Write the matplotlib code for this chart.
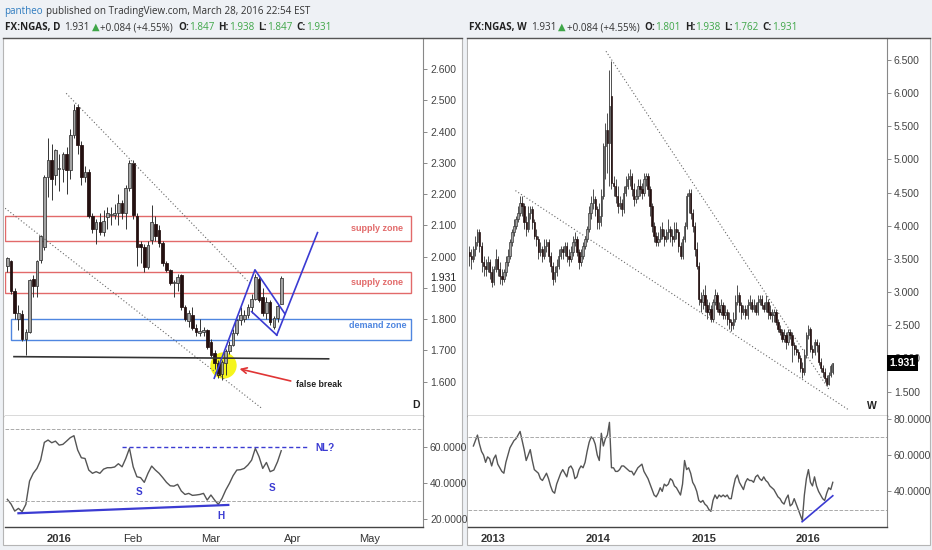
import matplotlib
matplotlib.use("Agg")
import matplotlib.pyplot as plt
import numpy as np
from matplotlib.lines import Line2D
from matplotlib.patches import Rectangle
from matplotlib.transforms import blended_transform_factory

plt.rcParams["font.family"] = ["Liberation Sans", "DejaVu Sans"]

# ---------------- daily FX:NGAS candles (Dec 2015 .. Mar 28 2016) ----------------
d_open = [1.970, 1.985, 1.890, 1.800, 1.815, 1.735, 1.760, 1.930, 1.905, 1.990,
          2.030, 2.255, 2.310, 2.260, 2.280, 2.280, 2.330, 2.278, 2.390, 2.480,
          2.358, 2.256, 2.270, 2.130, 2.090, 2.110, 2.080, 2.126, 2.134, 2.134,
          2.139, 2.171, 2.139, 2.219, 2.300, 2.130, 2.040, 2.030, 1.968, 2.054,
          2.105, 2.085, 2.043, 1.980, 1.957, 1.915, 1.917, 1.940, 1.838, 1.795,
          1.812, 1.773, 1.757, 1.758, 1.765, 1.728, 1.691, 1.659, 1.625, 1.659,
          1.697, 1.718, 1.755, 1.797, 1.800, 1.812, 1.840, 1.866, 1.930, 1.870,
          1.820, 1.855, 1.776, 1.803, 1.847]
d_high = [2.000, 1.990, 1.900, 1.845, 1.830, 1.770, 1.930, 1.940, 1.990, 2.070,
          2.260, 2.380, 2.360, 2.345, 2.330, 2.335, 2.350, 2.410, 2.490, 2.490,
          2.370, 2.290, 2.280, 2.140, 2.120, 2.140, 2.150, 2.160, 2.160, 2.170,
          2.200, 2.180, 2.230, 2.310, 2.310, 2.140, 2.050, 2.040, 2.050, 2.165,
          2.130, 2.100, 2.050, 1.985, 1.960, 1.925, 1.945, 1.945, 1.845, 1.830,
          1.840, 1.785, 1.800, 1.775, 1.770, 1.735, 1.700, 1.670, 1.670, 1.705,
          1.730, 1.770, 1.800, 1.840, 1.830, 1.850, 1.880, 1.945, 1.935, 1.900,
          1.870, 1.860, 1.810, 1.850, 1.938]
d_low = [1.950, 1.880, 1.800, 1.765, 1.730, 1.685, 1.755, 1.870, 1.870, 1.980,
         2.020, 2.190, 2.180, 2.230, 2.210, 2.240, 2.200, 2.250, 2.380, 2.330,
         2.230, 2.240, 2.125, 2.075, 2.040, 2.070, 2.065, 2.090, 2.100, 2.120,
         2.100, 2.120, 2.090, 2.210, 2.120, 1.970, 1.980, 1.950, 1.960, 2.040,
         2.050, 2.030, 1.970, 1.950, 1.910, 1.870, 1.890, 1.830, 1.795, 1.775,
         1.765, 1.745, 1.745, 1.745, 1.705, 1.680, 1.640, 1.611, 1.605, 1.620,
         1.690, 1.715, 1.750, 1.780, 1.790, 1.805, 1.820, 1.860, 1.855, 1.810,
         1.800, 1.780, 1.770, 1.790, 1.847]
d_close = [1.995, 1.890, 1.820, 1.820, 1.735, 1.760, 1.925, 1.905, 1.985, 2.065,
           2.255, 2.310, 2.250, 2.340, 2.285, 2.330, 2.278, 2.390, 2.470, 2.358,
           2.256, 2.270, 2.130, 2.090, 2.110, 2.080, 2.113, 2.139, 2.137, 2.141,
           2.171, 2.139, 2.219, 2.300, 2.134, 2.030, 2.030, 1.968, 2.037, 2.112,
           2.065, 2.043, 1.979, 1.957, 1.915, 1.919, 1.935, 1.838, 1.800, 1.820,
           1.773, 1.760, 1.760, 1.765, 1.712, 1.685, 1.659, 1.620, 1.664, 1.697,
           1.718, 1.755, 1.797, 1.812, 1.812, 1.840, 1.866, 1.936, 1.862, 1.820,
           1.855, 1.790, 1.803, 1.842, 1.931]
d_rsi = [30.9, 28.3, 24.4, 25.9, 24.1, 28.1, 41.0, 45.3, 48.0, 52.6,
         62.4, 63.7, 62.2, 63.1, 60.9, 61.3, 63.1, 65.0, 66.1, 58.2,
         53.9, 53.5, 47.1, 45.3, 46.2, 45.3, 47.6, 48.4, 48.4, 48.8,
         50.6, 48.9, 53.5, 59.1, 48.9, 43.4, 42.9, 40.3, 45.3, 49.3,
         47.1, 45.3, 42.9, 40.3, 38.4, 38.2, 39.2, 35.5, 33.6, 34.2,
         33.1, 33.3, 33.6, 34.2, 30.5, 33.3, 30.5, 28.1, 31.4, 36.0,
         39.7, 44.0, 47.1, 47.3, 48.0, 49.9, 52.6, 59.1, 54.5, 48.0,
         51.3, 46.2, 47.1, 51.7, 57.8]
d_month_labels = ["2016", "Feb", "Mar", "Apr", "May"]
d_month_bars = [14, 34, 55, 77, 98]

# ---------------- weekly FX:NGAS candles (Oct 2012 .. Mar 2016) ----------------
w_open = [3.60, 3.55, 3.50, 3.65, 3.75, 3.90, 3.70, 3.45, 3.40, 3.35,
          3.45, 3.30, 3.15, 3.35, 3.50, 3.35, 3.25, 3.20, 3.30, 3.45,
          3.55, 3.75, 3.90, 4.00, 4.10, 4.20, 4.35, 4.30, 4.05, 3.95,
          4.20, 4.25, 4.05, 3.85, 3.80, 3.60, 3.65, 3.55, 3.70, 3.75,
          3.55, 3.40, 3.20, 3.30, 3.40, 3.55, 3.65, 3.60, 3.70, 3.55,
          3.50, 3.60, 3.75, 3.80, 3.60, 3.45, 3.55, 3.70, 3.80, 3.95,
          4.20, 4.35, 4.40, 4.25, 4.05, 4.15, 4.45, 5.20, 5.45, 5.25,
          5.95, 4.65, 4.60, 4.45, 4.30, 4.35, 4.25, 4.50, 4.60, 4.70,
          4.75, 4.55, 4.40, 4.45, 4.60, 4.55, 4.50, 4.70, 4.75, 4.55,
          4.30, 4.00, 3.85, 3.75, 3.80, 3.95, 3.85, 3.80, 3.90, 3.95,
          3.85, 3.80, 3.95, 3.90, 3.70, 3.55, 3.80, 4.00, 4.45, 4.50,
          4.20, 4.00, 3.65, 3.40, 2.90, 2.85, 2.95, 2.80, 2.70, 2.75,
          2.60, 2.85, 2.95, 2.75, 2.70, 2.80, 2.65, 2.70, 2.60, 2.55,
          2.50, 2.60, 2.85, 2.95, 2.80, 2.70, 2.75, 2.65, 2.80, 2.85,
          2.75, 2.80, 2.70, 2.85, 2.90, 2.80, 2.75, 2.85, 2.70, 2.65,
          2.65, 2.70, 2.55, 2.45, 2.40, 2.30, 2.35, 2.25, 2.40, 2.35,
          2.20, 2.15, 2.10, 2.00, 1.85, 1.80, 2.05, 2.35, 2.45, 2.15,
          2.10, 2.25, 2.20, 1.95, 1.85, 1.80, 1.70, 1.62, 1.75, 1.801]
w_high = [3.70, 3.65, 3.70, 3.85, 3.95, 3.95, 3.75, 3.55, 3.50, 3.55,
          3.50, 3.40, 3.40, 3.65, 3.55, 3.45, 3.35, 3.35, 3.55, 3.65,
          3.80, 3.95, 4.10, 4.15, 4.30, 4.45, 4.45, 4.35, 4.15, 4.30,
          4.30, 4.30, 4.10, 3.95, 3.85, 3.75, 3.70, 3.80, 3.80, 3.80,
          3.60, 3.45, 3.40, 3.50, 3.65, 3.70, 3.70, 3.75, 3.75, 3.65,
          3.70, 3.85, 3.90, 3.85, 3.65, 3.65, 3.75, 3.85, 4.00, 4.30,
          4.45, 4.55, 4.45, 4.30, 4.35, 4.55, 5.25, 5.55, 5.70, 6.35,
          6.49, 4.75, 4.70, 4.60, 4.45, 4.40, 4.60, 4.75, 4.80, 4.85,
          4.80, 4.65, 4.55, 4.70, 4.70, 4.65, 4.80, 4.80, 4.80, 4.60,
          4.35, 4.05, 3.90, 3.90, 4.00, 4.05, 3.95, 3.95, 4.10, 4.00,
          3.95, 4.05, 4.05, 3.95, 3.75, 3.85, 4.05, 4.50, 4.55, 4.55,
          4.25, 4.05, 3.75, 3.45, 3.00, 3.05, 3.10, 2.90, 2.85, 2.80,
          2.90, 3.05, 3.00, 2.85, 2.90, 2.85, 2.80, 2.75, 2.70, 2.60,
          2.70, 2.95, 3.10, 3.00, 2.85, 2.80, 2.80, 2.90, 2.95, 2.90,
          2.90, 2.85, 2.95, 2.95, 2.95, 2.85, 2.95, 2.90, 2.80, 2.75,
          2.75, 2.75, 2.60, 2.50, 2.45, 2.45, 2.40, 2.45, 2.45, 2.40,
          2.25, 2.20, 2.15, 2.05, 1.95, 2.15, 2.40, 2.50, 2.48, 2.20,
          2.30, 2.30, 2.25, 2.00, 1.90, 1.85, 1.75, 1.80, 1.92, 1.938]
w_low = [3.40, 3.35, 3.45, 3.55, 3.70, 3.60, 3.30, 3.25, 3.25, 3.30,
         3.20, 3.08, 3.10, 3.30, 3.25, 3.12, 3.10, 3.15, 3.25, 3.40,
         3.50, 3.70, 3.85, 3.95, 4.05, 4.15, 4.15, 3.95, 3.85, 3.90,
         4.10, 3.95, 3.80, 3.70, 3.50, 3.55, 3.45, 3.50, 3.60, 3.45,
         3.30, 3.10, 3.15, 3.25, 3.35, 3.50, 3.50, 3.55, 3.45, 3.40,
         3.45, 3.55, 3.70, 3.55, 3.35, 3.40, 3.50, 3.65, 3.75, 3.90,
         4.10, 4.25, 4.15, 3.95, 3.95, 4.00, 4.40, 4.70, 4.80, 4.60,
         4.55, 4.45, 4.35, 4.20, 4.25, 4.15, 4.20, 4.45, 4.55, 4.60,
         4.45, 4.30, 4.35, 4.40, 4.45, 4.40, 4.45, 4.60, 4.45, 4.15,
         3.90, 3.75, 3.70, 3.70, 3.75, 3.80, 3.70, 3.75, 3.80, 3.75,
         3.70, 3.75, 3.80, 3.60, 3.50, 3.50, 3.75, 3.95, 4.20, 4.10,
         3.90, 3.55, 3.35, 2.80, 2.70, 2.75, 2.70, 2.60, 2.65, 2.55,
         2.55, 2.80, 2.70, 2.65, 2.65, 2.60, 2.60, 2.50, 2.45, 2.42,
         2.45, 2.55, 2.80, 2.70, 2.60, 2.65, 2.60, 2.60, 2.75, 2.70,
         2.70, 2.65, 2.65, 2.80, 2.75, 2.70, 2.70, 2.60, 2.60, 2.55,
         2.55, 2.50, 2.40, 2.35, 2.25, 2.25, 2.15, 2.20, 2.30, 1.95,
         2.05, 2.05, 1.95, 1.80, 1.70, 1.75, 2.00, 2.30, 2.10, 2.00,
         2.05, 2.10, 1.90, 1.80, 1.72, 1.65, 1.58, 1.60, 1.72, 1.762]
w_close = [3.55, 3.50, 3.65, 3.75, 3.90, 3.70, 3.45, 3.40, 3.35, 3.45,
           3.30, 3.15, 3.35, 3.50, 3.35, 3.25, 3.20, 3.30, 3.45, 3.55,
           3.75, 3.90, 4.00, 4.10, 4.20, 4.35, 4.30, 4.05, 3.95, 4.20,
           4.25, 4.05, 3.85, 3.80, 3.60, 3.65, 3.55, 3.70, 3.75, 3.55,
           3.40, 3.20, 3.30, 3.40, 3.55, 3.65, 3.60, 3.70, 3.55, 3.50,
           3.60, 3.75, 3.80, 3.60, 3.45, 3.55, 3.70, 3.80, 3.95, 4.20,
           4.35, 4.40, 4.25, 4.05, 4.15, 4.45, 5.20, 5.45, 5.25, 5.80,
           4.65, 4.60, 4.45, 4.30, 4.35, 4.25, 4.50, 4.60, 4.70, 4.75,
           4.55, 4.40, 4.45, 4.60, 4.55, 4.50, 4.70, 4.75, 4.55, 4.30,
           4.00, 3.85, 3.75, 3.80, 3.95, 3.85, 3.80, 3.90, 3.95, 3.85,
           3.80, 3.95, 3.90, 3.70, 3.55, 3.80, 4.00, 4.45, 4.50, 4.20,
           4.00, 3.65, 3.40, 2.90, 2.85, 2.95, 2.80, 2.70, 2.75, 2.60,
           2.85, 2.95, 2.75, 2.70, 2.80, 2.65, 2.70, 2.60, 2.55, 2.50,
           2.60, 2.85, 2.95, 2.80, 2.70, 2.75, 2.65, 2.80, 2.85, 2.75,
           2.80, 2.70, 2.85, 2.90, 2.80, 2.75, 2.85, 2.70, 2.65, 2.65,
           2.70, 2.55, 2.45, 2.40, 2.30, 2.35, 2.25, 2.40, 2.35, 2.20,
           2.15, 2.10, 2.00, 1.85, 1.80, 2.05, 2.35, 2.45, 2.15, 2.10,
           2.25, 2.20, 1.95, 1.85, 1.80, 1.70, 1.62, 1.75, 1.88, 1.931]
w_rsi = [np.nan, np.nan, 65, 68, 71, 66, 62, 60, 56, 59,
         58, 54, 58, 60, 55, 53, 51, 50, 56, 60,
         64, 66, 68, 69, 71, 73, 68, 63, 57, 60,
         63, 57, 52, 51, 50, 47, 46, 48, 50, 47,
         43, 40, 39, 44, 47, 50, 52, 50, 48, 53,
         54, 52, 47, 48, 52, 54, 53, 56, 62, 67,
         70, 69, 66, 60, 57, 72, 65, 69, 71, 78,
         53, 53, 51, 51, 52, 54, 54, 53, 52, 51,
         51, 49, 51, 53, 54, 55, 51, 49, 47, 44,
         41, 38, 37, 39, 42, 40, 44, 43, 44, 47,
         46, 43, 42, 40, 38, 44, 57, 52, 53, 50,
         45, 43, 40, 35, 34, 35, 33, 32, 30, 29,
         35, 38, 36, 38, 37, 38, 37, 38, 36, 36,
         42, 47, 49, 45, 43, 41, 45, 47, 46, 46,
         45, 48, 49, 47, 46, 48, 46, 45, 43, 42,
         41, 39, 37, 36, 34, 33, 36, 38, 32, 33,
         36, 33, 30, 27, 24, 38, 47, 52, 45, 43,
         48, 43, 40, 38, 36, 35, 39, 42, 41, 45]
w_year_labels = ["2013", "2014", "2015", "2016"]
w_year_bars = [11.5, 63.5, 115.4, 167]

W, H = 932, 550
BG = "#eef1f5"
UP_FACE, DOWN_FACE, EDGE = "#a3a3a3", "#241010", "#333333"
DRAW_BLUE = "#3b3bd2"
TXT = "#444444"


def fx(x):
    return x / W


def fy(y):
    return 1 - y / H


def _candles(ax, o, h, l, c, width, lw, min_body):
    o, h, l, c = (np.asarray(v, dtype=float) for v in (o, h, l, c))
    x = np.arange(len(c))
    up = c >= o
    lo = np.minimum(o, c)
    ht = np.maximum(np.abs(c - o), min_body)
    ax.vlines(x, l, h, color=EDGE, linewidth=lw, zorder=3)
    ax.bar(x[up], ht[up], width, bottom=lo[up], color=UP_FACE,
           edgecolor=EDGE, linewidth=lw * 0.8, zorder=4)
    ax.bar(x[~up], ht[~up], width, bottom=lo[~up], color=DOWN_FACE,
           edgecolor=DOWN_FACE, linewidth=lw * 0.8, zorder=4)


def _style(ax, price=True):
    ax.set_facecolor("white")
    ax.yaxis.tick_right()
    ax.tick_params(axis="y", length=3, width=0.6, pad=2, labelsize=7.5,
                   colors="#777777", labelcolor=TXT)
    ax.tick_params(axis="x", length=0, pad=5, labelsize=8, labelcolor="#333333")
    for s in ("left", "top"):
        ax.spines[s].set_visible(False)
    ax.spines["right"].set_color("#888888")
    ax.spines["right"].set_linewidth(0.8)
    ax.spines["bottom"].set_color("#444444")
    ax.spines["bottom"].set_linewidth(1.0)
    if price:
        ax.tick_params(axis="x", labelbottom=False)


def _text_run(fig, x, y, parts, size):
    renderer = fig.canvas.get_renderer()
    for s, color, weight, gap in parts:
        t = fig.text(fx(x), fy(y), s, color=color, fontweight=weight, fontsize=size,
                     va="baseline", ha="left", family=["Open Sans", "DejaVu Sans"])
        x = t.get_window_extent(renderer).x1 + gap


def _header(fig, x, y, tf, o, hi, lo, c):
    g = "#3fa648"
    parts = [(f"FX:NGAS, {tf}", "#222222", "bold", 4), ("1.931", "#333333", "normal", 2),
             ("\u25B2", g, "normal", 1), ("+0.084 (+4.55%)", "#333333", "normal", 5),
             ("O:", "#222222", "bold", 0), (o, g, "normal", 4),
             ("H:", "#222222", "bold", 0), (hi, g, "normal", 4),
             ("L:", "#222222", "bold", 0), (lo, g, "normal", 4),
             ("C:", "#222222", "bold", 0), (c, g, "normal", 0)]
    _text_run(fig, x, y, parts, 7.1)


fig = plt.figure(figsize=(W / 100, H / 100), dpi=100, facecolor=BG)

# panel frames + header separator
for x0, x1 in ((3, 462), (467, 930)):
    fig.add_artist(Rectangle((fx(x0), fy(545)), fx(x1 - x0), (545 - 38) / H,
                             transform=fig.transFigure, facecolor="white",
                             edgecolor="#b5b5b5", linewidth=0.8, zorder=0))
    fig.add_artist(Line2D([fx(x0), fx(x1)], [fy(38), fy(38)], color="#555555",
                          linewidth=1.0, transform=fig.transFigure))

_text_run(fig, 4, 14, [("pantheo", "#2e7bbf", "normal", 3),
                       ("published on TradingView.com, March 28, 2016 22:54 EST",
                        "#333333", "normal", 0)], 7.1)
_header(fig, 5, 30, "D", "1.847", "1.938", "1.847", "1.931")
_header(fig, 469, 30, "W", "1.801", "1.938", "1.762", "1.931")

# ================= left: daily =================
axLp = fig.add_axes([fx(5), fy(416), (423 - 5) / W, (416 - 38) / H])
axLr = fig.add_axes([fx(5), fy(527), (423 - 5) / W, (527 - 416) / H], sharex=axLp)
_style(axLp)
_style(axLr, price=False)

_candles(axLp, d_open, d_high, d_low, d_close, 0.72, 0.7, 0.004)
axLp.set_xlim(-0.63, 112.3)
axLp.set_ylim(1.49, 2.70)
axLp.set_yticks(np.round(np.arange(1.6, 2.61, 0.1), 1))
axLp.yaxis.set_major_formatter(plt.FormatStrFormatter("%.3f"))

# zones
for (y0, y1, col, lab, ly, x0) in ((2.050, 2.131, "#e26a6a", "supply zone", 2.090, -0.6),
                                   (1.884, 1.950, "#e26a6a", "supply zone", 1.917, -0.6),
                                   (1.733, 1.802, "#4f86e0", "demand zone", 1.780, 0.9)):
    axLp.add_patch(Rectangle((x0, y0), 109.0 - x0, y1 - y0, facecolor="white",
                             edgecolor=col, linewidth=1.0, zorder=1))
    axLp.text(100.0, ly, lab, color=col, fontsize=6.5, fontweight="bold",
              ha="center", va="center", zorder=6)

# trend lines
dot = dict(color="#666666", linewidth=0.8, linestyle=(0, (1, 2)), zorder=5)
axLp.plot([15.9, 66.0], [2.523, 1.909], **dot)
axLp.plot([-0.6, 68.7], [2.155, 1.515], **dot)
axLp.plot([1.8, 86.8], [1.680, 1.673], color="#333333", linewidth=1.2, zorder=5)

# flag
blue = dict(color=DRAW_BLUE, linewidth=1.2, zorder=6)
axLp.plot([55.9, 66.9, 75.0], [1.611, 1.958, 1.817], **blue)
axLp.plot([66.0, 72.8], [1.824, 1.749], **blue)
axLp.plot([72.8, 83.8], [1.749, 2.077], **blue)

axLp.scatter([58.4], [1.653], s=360, color="#f5f51c", zorder=2, linewidths=0)
axLp.annotate("", xy=(62.0, 1.643), xytext=(77.3, 1.600),
              arrowprops=dict(arrowstyle="->", color="#e03535", lw=1.2), zorder=6)
axLp.text(78.0, 1.592, "false break", fontsize=6.3, fontweight="bold",
          color="#222222", ha="left", va="center")
axLp.text(110.4, 1.525, "D", fontsize=7.5, fontweight="bold", color="#222222",
          ha="center", va="center")

tr = blended_transform_factory(axLp.transAxes, axLp.transData)
axLp.annotate("1.931", xy=(1.0, 1.931), xycoords=tr, xytext=(5, 0),
              textcoords="offset points", fontsize=7.5, color="#222222",
              ha="left", va="center", annotation_clip=False, zorder=10,
              bbox=dict(boxstyle="square,pad=0.1", facecolor="white", edgecolor="none"))

# RSI daily
axLr.plot(np.arange(len(d_rsi)), d_rsi, color="#555555", linewidth=1.0)
axLr.set_ylim(15.6, 77.0)
axLr.set_yticks([20, 40, 60])
axLr.yaxis.set_major_formatter(plt.FormatStrFormatter("%.4f"))
for lvl in (70, 30):
    axLr.axhline(lvl, color="#aaaaaa", linestyle="--", linewidth=0.7)
axLr.plot([30.9, 81.6], [59.6, 59.6], color=DRAW_BLUE, linewidth=1.0, linestyle=(0, (3, 2)))
axLr.plot([3.0, 59.7], [23.2, 27.8], color=DRAW_BLUE, linewidth=1.6)
rsi_lab = dict(color=DRAW_BLUE, fontsize=7.2, fontweight="bold", ha="center", va="center")
axLr.text(85.9, 59.1, "NL?", **rsi_lab)
axLr.text(35.7, 34.8, "S", **rsi_lab)
axLr.text(71.6, 37.0, "S", **rsi_lab)
axLr.text(57.7, 21.7, "H", **rsi_lab)
axLr.set_xticks(d_month_bars)
axLr.set_xticklabels(d_month_labels)
axLr.get_xticklabels()[0].set_fontweight("bold")

# ================= right: weekly =================
axRp = fig.add_axes([fx(468), fy(416), (887 - 468) / W, (416 - 38) / H])
axRr = fig.add_axes([fx(468), fy(527), (887 - 468) / W, (527 - 416) / H], sharex=axRp)
_style(axRp)
_style(axRr, price=False)

_candles(axRp, w_open, w_high, w_low, w_close, 0.68, 0.6, 0.015)
axRp.set_xlim(-0.66, 205.7)
axRp.set_ylim(1.133, 6.83)
axRp.set_yticks(np.arange(1.5, 6.51, 0.5))
axRp.yaxis.set_major_formatter(plt.FormatStrFormatter("%.3f"))
axRp.plot([67.3, 177.3], [6.63, 1.525], **dot)
axRp.plot([22.7, 186.9], [4.53, 1.224], **dot)
axRp.text(198.0, 1.29, "W", fontsize=7.5, fontweight="bold", color="#222222",
          ha="center", va="center")
trw = blended_transform_factory(axRp.transAxes, axRp.transData)
axRp.annotate("1.931", xy=(1.0, 1.931), xycoords=trw, xytext=(2, 0),
              textcoords="offset points", fontsize=7.5, color="white", fontweight="bold",
              ha="left", va="center", annotation_clip=False, zorder=10,
              bbox=dict(boxstyle="square,pad=0.25", facecolor="black", edgecolor="none"))

axRr.plot(np.arange(len(w_rsi)), w_rsi, color="#555555", linewidth=1.0)
axRr.set_ylim(20.4, 81.5)
axRr.set_yticks([40, 60, 80])
axRr.yaxis.set_major_formatter(plt.FormatStrFormatter("%.4f"))
for lvl in (70, 30):
    axRr.axhline(lvl, color="#aaaaaa", linestyle="--", linewidth=0.7)
axRr.plot([163.9, 179.0], [23.3, 37.6], color=DRAW_BLUE, linewidth=1.2)
axRr.set_xticks(w_year_bars)
axRr.set_xticklabels(w_year_labels)
for t in axRr.get_xticklabels():
    t.set_fontweight("bold")

fig.savefig("out.png", dpi=100, facecolor=fig.get_facecolor())
